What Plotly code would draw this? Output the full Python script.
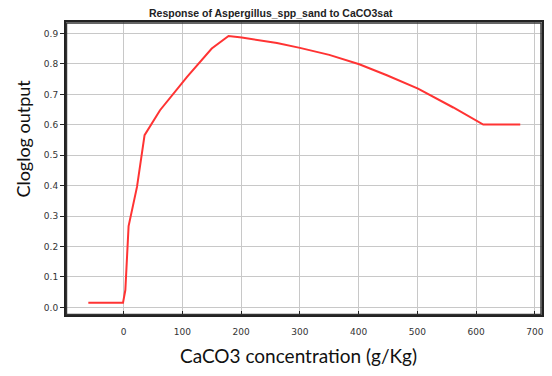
import plotly.graph_objects as go

# Data
conc = [-60, -1, 3, 8.5, 22.8, 35.7, 62, 108, 150, 178.6, 201, 261, 300, 350, 401, 448, 501, 561, 612, 675]
cloglog = [0.015, 0.015, 0.057, 0.267, 0.396, 0.566, 0.648, 0.758, 0.851, 0.892, 0.887, 0.869, 0.853, 0.830, 0.799, 0.763, 0.719, 0.657, 0.601, 0.601]

x_ticks = [0, 100, 200, 300, 400, 500, 600, 700]
y_ticks = [0.0, 0.1, 0.2, 0.3, 0.4, 0.5, 0.6, 0.7, 0.8, 0.9]

title_text = "Response of Aspergillus_spp_sand to CaCO3sat"
x_title = "CaCO3 concentration (g/Kg)"
y_title = "Cloglog output"

x_range = [-98, 712]
y_range = [-0.025, 0.938]

fig = go.Figure()
fig.add_trace(go.Scatter(x=conc, y=cloglog, mode="lines",
                         line=dict(color="#ff3333", width=2), showlegend=False))

tickfont = dict(family="DejaVu Sans", size=9, color="#333333")
fig.update_layout(
    template="none",
    width=536, height=360,
    margin=dict(l=58, r=2, t=14, b=53, autoexpand=False),
    xaxis=dict(range=x_range, tickvals=x_ticks, ticks="inside", ticklen=4,
               tickcolor="#222", showline=True, linecolor="#222", linewidth=2,
               mirror=True, showgrid=True, gridcolor="#c8c8c8", gridwidth=1,
               tickfont=tickfont, ticklabelstandoff=7),
    yaxis=dict(range=y_range, tickvals=y_ticks, tickformat=".1f",
               ticks="outside", ticklen=4, tickcolor="#222", showline=True,
               linecolor="#222", linewidth=2, mirror=True, showgrid=True,
               gridcolor="#c8c8c8", gridwidth=1, zeroline=False, tickfont=tickfont),
    shapes=[dict(type="rect", xref="paper", yref="paper",
                 x0=0.001, x1=0.998, y0=0.002, y1=0.997,
                 line=dict(color="#333333", width=1.5), layer="above")],
    annotations=[
        dict(text="<b>" + title_text + "</b>", xref="paper", yref="paper",
             x=0.43, y=1, yanchor="bottom", xanchor="center", yshift=1,
             showarrow=False, font=dict(family="Liberation Sans", size=10.5, color="#222")),
        dict(text=x_title, xref="paper", yref="paper", x=0.488, y=0,
             xanchor="center", yanchor="middle", yshift=-40, showarrow=False,
             font=dict(family="Lato", size=19, color="#111")),
        dict(text=y_title, xref="paper", yref="paper", x=0, y=0.602,
             xanchor="center", yanchor="middle", xshift=-43, textangle=-90,
             showarrow=False, font=dict(family="Lato", size=18, color="#111")),
    ],
)
fig.update_xaxes(zeroline=False)

fig.write_html("out.html")
